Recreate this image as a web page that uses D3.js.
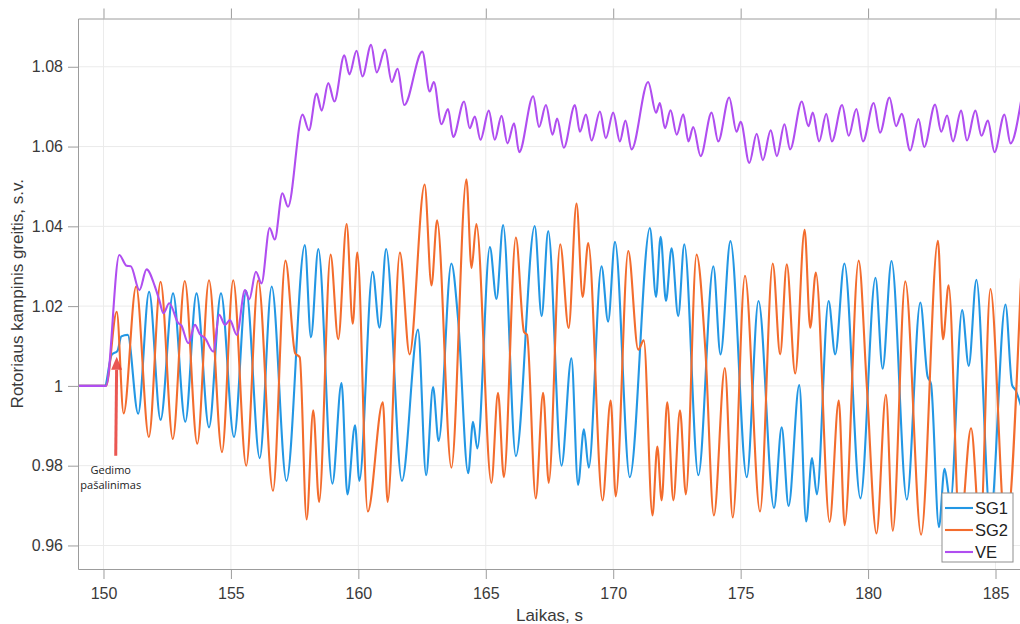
<!DOCTYPE html>
<html>
<head>
<meta charset="utf-8">
<script src="https://cdn.jsdelivr.net/npm/d3@7"></script>
<style>
  html, body { margin: 0; padding: 0; background: #ffffff; }
  svg { display: block; }
</style>
</head>
<body>
<svg id="chart" width="1020" height="624"></svg>
<script>
// Rotor speed of two synchronous generators (SG1, SG2) and a wind park (VE) after fault clearing.
// Points are [time, speed] pairs taken at the turning points of each trace.

const sg1Points = [
  [149, 1], [150.05, 1], [150.32, 1.0078], [150.55, 1.0088], [150.7, 1.0124], [150.95, 1.0128],
  [151.36, 0.9930], [151.79, 1.0236], [152.24, 0.9915], [152.73, 1.0232], [153.21, 0.9910],
  [153.65, 1.0232], [154.14, 0.9896], [154.61, 1.0232], [155.12, 0.9872], [155.6, 1.0238],
  [156.13, 0.9819], [156.6, 1.0249], [157.18, 0.9762], [157.9, 1.0353], [158.14, 1.0122],
  [158.43, 1.0343], [158.98, 0.9755], [159.34, 1.0007], [159.57, 0.9728], [159.87, 0.9901],
  [160.04, 0.9762], [160.56, 1.0286], [160.83, 1.0146], [161.09, 1.0343], [161.71, 0.9762],
  [162.34, 1.0141], [162.66, 0.9776], [162.93, 0.9997], [163.15, 0.9862], [163.65, 1.0307],
  [163.91, 1.0170], [164.31, 0.9781], [164.5, 0.9910], [164.67, 0.9843], [165.16, 1.0348],
  [165.42, 1.0218], [165.68, 1.0403], [166.18, 0.9824], [166.92, 1.0401], [167.19, 1.0175],
  [167.45, 1.0388], [167.97, 0.9800], [168.36, 1.0069], [168.62, 0.9752], [168.85, 0.9891],
  [169.04, 0.9795], [169.54, 1.0300], [169.8, 1.0161], [170.07, 1.0361], [170.65, 0.9771],
  [171.44, 1.0396], [171.68, 1.0223], [171.86, 1.0374], [172.07, 1.0213], [172.29, 1.0345],
  [172.55, 1.0175], [172.79, 1.0355], [173.34, 0.9776], [173.93, 1.0300], [174.21, 1.0079],
  [174.6, 1.0363], [175.24, 0.9771], [175.7, 1.0213], [176.31, 0.9694], [176.61, 0.9896],
  [176.88, 0.9699], [177.3, 1.0002], [177.57, 0.9660], [177.8, 0.9819], [177.99, 0.9728],
  [178.45, 1.0213], [178.71, 1.0079], [179.07, 1.0307], [179.7, 0.9718], [180.29, 1.0271],
  [180.57, 1.0043], [180.92, 1.0313], [181.52, 0.9715], [182.05, 1.0209], [182.33, 1.0025],
  [182.47, 1.0005], [182.78, 0.9646], [183.0, 0.9792], [183.23, 0.9709], [183.69, 1.0190],
  [183.95, 1.0050], [184.25, 1.0266], [184.8, 0.9670], [185.39, 1.0204], [185.65, 1.0002],
  [185.78, 0.9990], [186, 0.9950]
];

const sg2Points = [
  [149, 1], [150.1, 1], [150.52, 1.0186], [150.79, 0.9931], [151.28, 1.0249], [151.78, 0.9872],
  [152.24, 1.0261], [152.72, 0.9867], [153.19, 1.0263], [153.68, 0.9855], [154.14, 1.0265],
  [154.65, 0.9834], [155.09, 1.0265], [155.6, 0.9800], [156.07, 1.0265], [156.65, 0.9737],
  [157.14, 1.0314], [157.52, 1.0082], [157.7, 1.0072], [157.97, 0.9665], [158.23, 0.9939],
  [158.46, 0.9709], [158.91, 1.0329], [159.21, 1.0117], [159.54, 1.0406], [159.78, 1.0156],
  [159.96, 1.0334], [160.37, 0.9685], [160.96, 0.9959], [161.15, 0.9709], [161.63, 1.0334],
  [162.01, 1.0079], [162.6, 1.0505], [162.87, 1.0252], [163.09, 1.0415], [163.65, 0.9795],
  [164.24, 1.0518], [164.44, 1.0295], [164.63, 1.0406], [165.22, 0.9757], [165.48, 0.9983],
  [165.71, 0.9771], [166.18, 1.0372], [166.5, 1.0135], [166.62, 1.0128], [166.96, 0.9718],
  [167.25, 0.9983], [167.47, 0.9757], [167.92, 1.0355], [168.25, 1.0145], [168.56, 1.0457],
  [168.8, 1.0223], [169.02, 1.0358], [169.58, 0.9713], [169.9, 0.9963], [170.1, 0.9723],
  [170.59, 1.0338], [170.98, 1.0091], [171.2, 1.0114], [171.54, 0.9675], [171.73, 0.9848],
  [171.9, 0.9713], [172.12, 0.9959], [172.36, 0.9713], [172.62, 0.9939], [172.85, 0.9728],
  [173.27, 1.0329], [173.62, 1.0085], [173.95, 0.9675], [174.38, 1.0045], [174.69, 0.9670],
  [175.17, 1.0276], [175.76, 0.9685], [176.26, 1.0307], [176.55, 1.0079], [176.81, 1.0305],
  [177.14, 1.0031], [177.51, 1.0391], [177.73, 1.0146], [177.95, 1.0284], [178.49, 0.9659],
  [178.85, 0.9963], [179.08, 0.9651], [179.63, 1.0314], [179.95, 1.0000], [180.33, 0.9630],
  [180.7, 0.9978], [180.97, 0.9637], [181.46, 1.0262], [182.08, 0.9627], [182.74, 1.0364],
  [182.94, 1.0117], [183.16, 1.0252], [183.6, 0.9630], [184.04, 0.9894], [184.4, 0.9630],
  [184.8, 1.0243], [185.4, 0.9630], [186, 1.0270]
];

const vePoints = [
  [149, 1], [150.1, 1], [150.62, 1.0328], [150.91, 1.0301], [151.07, 1.0300], [151.41, 1.0240],
  [151.69, 1.0292], [152.02, 1.0249], [152.19, 1.0215], [152.35, 1.0182], [152.58, 1.0207],
  [152.94, 1.0157], [153.05, 1.0152], [153.33, 1.0107], [153.59, 1.0153], [153.78, 1.0130],
  [153.98, 1.0120], [154.31, 1.0086], [154.54, 1.0178], [154.77, 1.0153], [154.96, 1.0165],
  [155.23, 1.0128], [155.55, 1.0240], [155.72, 1.0217], [155.98, 1.0286], [156.2, 1.0257],
  [156.52, 1.0396], [156.72, 1.0367], [157.02, 1.0483], [157.24, 1.0449], [157.81, 1.0680],
  [158.06, 1.0641], [158.36, 1.0733], [158.56, 1.0690], [158.82, 1.0759], [159.06, 1.0713],
  [159.45, 1.0829], [159.65, 1.0781], [159.93, 1.0840], [160.16, 1.0776], [160.5, 1.0855],
  [160.72, 1.0786], [161.05, 1.0843], [161.31, 1.0762], [161.54, 1.0795], [161.8, 1.0704],
  [162.51, 1.0838], [162.8, 1.0738], [162.96, 1.0762], [163.26, 1.0656], [163.52, 1.0694],
  [163.72, 1.0624], [164.15, 1.0713], [164.37, 1.0646], [164.57, 1.0675], [164.79, 1.0617],
  [165.12, 1.0690], [165.35, 1.0617], [165.62, 1.0677], [165.85, 1.0608], [166.11, 1.0658],
  [166.31, 1.0586], [166.86, 1.0726], [167.09, 1.0649], [167.36, 1.0704], [167.62, 1.0630],
  [167.8, 1.0670], [168.06, 1.0597], [168.5, 1.0704], [168.69, 1.0637], [168.93, 1.0680],
  [169.15, 1.0615], [169.48, 1.0688], [169.71, 1.0621], [170.0, 1.0685], [170.26, 1.0613],
  [170.48, 1.0665], [170.72, 1.0593], [171.37, 1.0762], [171.68, 1.0685], [171.83, 1.0709],
  [172.03, 1.0646], [172.25, 1.0691], [172.49, 1.0630], [172.75, 1.0681], [172.95, 1.0613],
  [173.14, 1.0649], [173.43, 1.0576], [173.86, 1.0685], [174.12, 1.0613], [174.55, 1.0723],
  [174.84, 1.0637], [175.0, 1.0662], [175.34, 1.0559], [175.63, 1.0632], [175.87, 1.0566],
  [176.18, 1.0641], [176.42, 1.0576], [176.72, 1.0656], [176.94, 1.0593], [177.4, 1.0713],
  [177.66, 1.0651], [177.83, 1.0685], [178.08, 1.0613], [178.36, 1.0682], [178.58, 1.0613],
  [178.98, 1.0704], [179.24, 1.0627], [179.54, 1.0694], [179.8, 1.0613], [180.22, 1.0709],
  [180.47, 1.0635], [180.84, 1.0723], [181.1, 1.0651], [181.32, 1.0682], [181.65, 1.0590],
  [181.98, 1.0669], [182.2, 1.0599], [182.63, 1.0705], [182.87, 1.0637], [183.1, 1.0678],
  [183.33, 1.0613], [183.65, 1.0690], [183.88, 1.0615], [184.21, 1.0690], [184.45, 1.0627],
  [184.7, 1.0665], [184.96, 1.0586], [185.35, 1.0680], [185.59, 1.0608], [186, 1.0713]
];

const seriesNames = ["SG1", "SG2", "VE"];
const seriesColors = ["#2397e4", "#f36c2d", "#b04ef0"];
const xTickValues = [150, 155, 160, 165, 170, 175, 180, 185];
const yTickValues = [0.96, 0.98, 1, 1.02, 1.04, 1.06, 1.08];
const yTickLabels = ["0.96", "0.98", "1", "1.02", "1.04", "1.06", "1.08"];
const xDomain = [149, 186];
const yDomain = [0.9541, 1.0921];
const xTitle = "Laikas, s";
const yTitle = "Rotoriaus kampinis greitis, s.v.";
const faultLabel = ["Gedimo", "pašalinimas"];
const faultArrow = { t0: 150.48, v0: 0.9825, t1: 150.52, v1: 1.0073 };

const svg = d3.select("#chart");
const plot = { left: 78, right: 1021, top: 18.5, bottom: 569 };

const x = d3.scaleLinear().domain(xDomain).range([plot.left, plot.right]);
const y = d3.scaleLinear().domain(yDomain).range([plot.bottom, plot.top]);

const axisColor = "#9c9c9c";
const textColor = "#3a3a3a";
const fontFamily = "'Liberation Sans', Arial, Helvetica, sans-serif";

// grid
const grid = svg.append("g");
grid.selectAll("line.gx").data(xTickValues).join("line")
  .attr("x1", d => x(d)).attr("x2", d => x(d))
  .attr("y1", plot.top).attr("y2", plot.bottom)
  .attr("stroke", "#ebebeb").attr("stroke-width", 1);
grid.selectAll("line.gy").data(yTickValues).join("line")
  .attr("x1", plot.left).attr("x2", plot.right)
  .attr("y1", d => y(d)).attr("y2", d => y(d))
  .attr("stroke", "#ebebeb").attr("stroke-width", 1);

// traces
svg.append("defs").append("clipPath").attr("id", "plotClip")
  .append("rect")
  .attr("x", plot.left).attr("y", plot.top)
  .attr("width", plot.right - plot.left).attr("height", plot.bottom - plot.top);

const line = d3.line()
  .x(d => x(d[0]))
  .y(d => y(d[1]))
  .curve(d3.curveMonotoneX);

const traces = [sg1Points, sg2Points, vePoints];
svg.append("g").attr("clip-path", "url(#plotClip)")
  .selectAll("path").data(traces).join("path")
  .attr("d", d => line(d))
  .attr("fill", "none")
  .attr("stroke", (d, i) => seriesColors[i])
  .attr("stroke-width", 2.1)
  .attr("stroke-linejoin", "round")
  .attr("stroke-linecap", "round");

// axes
function styleAxis(g) {
  g.selectAll(".domain").attr("stroke", axisColor);
  g.selectAll(".tick line").attr("stroke", axisColor);
  g.selectAll(".tick text")
    .attr("fill", textColor)
    .style("font-family", fontFamily)
    .style("font-size", "16px");
}

svg.append("g")
  .attr("transform", `translate(0,${plot.bottom})`)
  .call(d3.axisBottom(x).tickValues(xTickValues).tickSize(10).tickSizeOuter(0).tickPadding(9).tickFormat(d3.format("d")))
  .call(styleAxis);

svg.append("g")
  .attr("transform", `translate(0,${plot.top})`)
  .call(d3.axisTop(x).tickValues(xTickValues).tickSize(10).tickSizeOuter(0).tickFormat(""))
  .call(styleAxis);

svg.append("g")
  .attr("transform", `translate(${plot.left},0)`)
  .call(d3.axisLeft(y).tickValues(yTickValues).tickSize(10).tickSizeOuter(0).tickPadding(5)
    .tickFormat((d, i) => yTickLabels[i]))
  .call(styleAxis);

// axis titles
svg.append("text")
  .attr("x", (plot.left + plot.right) / 2)
  .attr("y", 621)
  .attr("text-anchor", "middle")
  .attr("fill", textColor)
  .style("font-family", fontFamily)
  .style("font-size", "17px")
  .text(xTitle);

svg.append("text")
  .attr("transform", `translate(23,${(plot.top + plot.bottom) / 2}) rotate(-90)`)
  .attr("text-anchor", "middle")
  .attr("fill", textColor)
  .style("font-family", fontFamily)
  .style("font-size", "17px")
  .text(yTitle);

// fault clearing marker
const ax0 = x(faultArrow.t0), ay0 = y(faultArrow.v0);
const ax1 = x(faultArrow.t1), ay1 = y(faultArrow.v1);
const ang = Math.atan2(ay1 - ay0, ax1 - ax0);
const headLen = 13, headHalf = 5.5;
const bx = ax1 - headLen * Math.cos(ang), by = ay1 - headLen * Math.sin(ang);
const arrow = svg.append("g").attr("opacity", 0.88);
arrow.append("line")
  .attr("x1", ax0).attr("y1", ay0).attr("x2", bx).attr("y2", by)
  .attr("stroke", "#e8403b").attr("stroke-width", 3);
arrow.append("path")
  .attr("d", `M${ax1},${ay1}L${bx + headHalf * Math.sin(ang)},${by - headHalf * Math.cos(ang)}L${bx - headHalf * Math.sin(ang)},${by + headHalf * Math.cos(ang)}Z`)
  .attr("fill", "#e8403b");

svg.append("g").selectAll("text").data(faultLabel).join("text")
  .attr("x", ax0 - 5)
  .attr("y", (d, i) => ay0 + 18 + i * 15)
  .attr("text-anchor", "middle")
  .attr("fill", "#222")
  .style("font-family", "'Open Sans', 'Noto Sans', sans-serif")
  .style("font-size", "11px")
  .text(d => d);

// legend
const legend = svg.append("g").attr("transform", "translate(942,493)");
legend.append("rect")
  .attr("width", 71).attr("height", 69)
  .attr("fill", "#ffffff").attr("stroke", "#8f8f8f").attr("stroke-width", 1);
const item = legend.selectAll("g").data(seriesNames).join("g")
  .attr("transform", (d, i) => `translate(0,${15 + i * 22})`);
item.append("line")
  .attr("x1", 3).attr("x2", 31).attr("y1", 0).attr("y2", 0)
  .attr("stroke", (d, i) => seriesColors[i]).attr("stroke-width", 2.1);
item.append("text")
  .attr("x", 33).attr("y", 6)
  .attr("fill", "#222")
  .style("font-family", fontFamily)
  .style("font-size", "16.5px")
  .text(d => d);
</script>
</body>
</html>
